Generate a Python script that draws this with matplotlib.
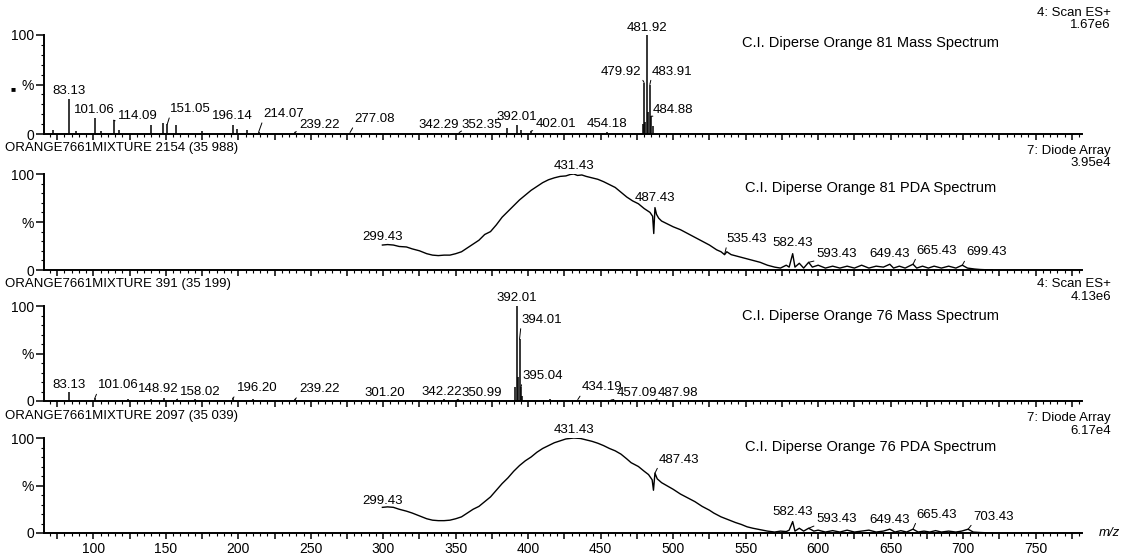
import numpy as np
import matplotlib.pyplot as plt
from matplotlib.ticker import MultipleLocator, FuncFormatter, FixedLocator

plt.rcParams['font.family'] = ['Liberation Sans', 'DejaVu Sans']

# ---- values ----

# C.I. Disperse Orange 81, mass spectrum (relative intensity %)
ms81_mz = [72, 83.13, 88, 101.06, 105, 114.09, 118, 140, 148, 151.05,
           157, 175, 196.14, 199, 206, 214.07, 239.22, 277.08, 342.29, 352.35,
           385.5, 392.01, 395, 402.01, 454.18, 478.9, 479.92, 480.9, 481.92, 482.9,
           483.91, 484.88, 485.9]
ms81_int = [4, 35, 3, 16, 3, 14, 4, 9.5, 11, 10,
            9, 3, 9.5, 5, 4, 2, 2, 1.5, 1.5, 1.5,
            6, 9.5, 4, 3, 2, 10, 52, 12, 100, 22,
            50, 18, 8]
ms81_labels = [83.13, 101.06, 114.09, 151.05, 196.14, 214.07, 239.22, 277.08,
               342.29, 352.35, 392.01, 402.01, 454.18, 479.92, 481.92, 483.91, 484.88]

# C.I. Disperse Orange 81, PDA spectrum
pda81_nm = [299.43, 303, 307, 311, 316, 320, 325, 330, 334, 338,
            342, 346, 350, 354, 358, 362, 366, 370, 374, 378,
            382, 386, 390, 394, 398, 402, 406, 410, 414, 418,
            422, 426, 429, 431.43, 434, 437, 440, 444, 448, 452,
            456, 460, 464, 468, 472, 476, 480, 484, 485.8, 486.6,
            487.43, 488.5, 490, 492, 496, 500, 505, 510, 515, 520,
            525, 530, 533, 535.43, 537, 540, 545, 550, 555, 560,
            565, 570, 574, 578, 580, 582.43, 584, 587, 590, 593.43,
            596, 600, 605, 610, 615, 620, 625, 630, 635, 640,
            645, 649.43, 652, 656, 660, 665.43, 668, 672, 676, 680,
            685, 690, 695, 699.43, 703, 708, 712, 720]
pda81_abs = [26, 26.5, 26, 24.5, 24, 22, 20, 17, 15.5, 15,
             15.5, 15.5, 17, 19, 23, 27, 31, 37, 40, 47,
             55, 61, 67, 73, 78, 83, 87, 91, 94, 96,
             97.5, 98, 99.5, 100, 98.5, 99, 97.5, 96, 94.5, 92,
             89, 86, 81, 76, 72, 69, 64, 60, 56, 38,
             65, 58, 54, 51, 48, 45, 42, 38, 34, 30,
             26, 21, 19, 16, 19, 16, 14, 12, 10, 8,
             5, 3, 2, 5, 3, 17, 3, 7, 2, 8,
             3, 5, 2, 4, 2, 4, 2, 5, 2, 4,
             3, 6, 2, 4, 2, 6, 2, 4, 2, 4,
             2, 4, 2, 5, 2, 1, 0.5, 0]
pda81_labels = [299.43, 431.43, 487.43, 535.43, 582.43, 593.43, 649.43, 665.43, 699.43]

# C.I. Disperse Orange 76, mass spectrum
ms76_mz = [83.13, 101.06, 124, 140, 148.92, 158.02, 170, 196.20, 210, 239.22,
           301.20, 342.22, 350.99, 391.0, 392.01, 393.0, 394.01, 395.04, 396.0, 415,
           434.19, 457.09, 487.98]
ms76_int = [9, 3, 2, 2, 3.5, 2, 2, 3, 2, 2,
            1, 2, 1.5, 15, 100, 25, 65, 15, 5, 2,
            1.5, 1, 1]
ms76_labels = [83.13, 101.06, 148.92, 158.02, 196.20, 239.22, 301.20, 342.22,
               350.99, 392.01, 394.01, 395.04, 434.19, 457.09, 487.98]

# C.I. Disperse Orange 76, PDA spectrum
pda76_nm = [299.43, 303, 307, 311, 316, 320, 325, 330, 334, 338,
            342, 346, 350, 354, 358, 362, 366, 370, 374, 378,
            382, 386, 390, 394, 398, 402, 406, 410, 414, 418,
            422, 426, 431.43, 436, 440, 444, 448, 452, 456, 460,
            464, 468, 471, 476, 480, 483, 485.5, 486.4, 487.43, 489,
            492, 496, 500, 505, 510, 515, 520, 525, 528, 533,
            538, 543, 547, 551, 555, 560, 565, 570, 574, 578,
            580, 582.43, 584, 587, 590, 593.43, 597, 600, 605, 610,
            615, 620, 625, 630, 635, 640, 645, 649.43, 653, 657,
            661, 665.43, 669, 673, 677, 681, 685, 690, 695, 699,
            703.43, 707, 712, 720]
pda76_abs = [27, 27.5, 27, 25, 23, 21, 18, 15, 13.5, 13,
             13, 13.5, 15, 17, 21, 25, 28, 33, 38, 45,
             52, 58, 65, 71, 76, 80, 85, 89, 92, 95,
             97, 99, 100, 99.5, 98, 96.5, 94.5, 92, 89, 86.5,
             83, 78, 74, 70, 65, 61.5, 56, 45, 63, 57,
             53, 49.5, 46, 41, 37, 33, 28, 24, 21, 17,
             14, 11, 9, 6.5, 5, 3.5, 2, 1, 2, 1.5,
             3, 12, 2, 5, 2, 5, 2, 3, 1, 2.5,
             1, 3, 1, 2, 3, 1, 2, 4, 1, 2.5,
             1, 4, 1, 2, 1, 2.5, 1, 2, 1, 2,
             4, 1, 0.5, 0]
pda76_labels = [299.43, 431.43, 487.43, 582.43, 593.43, 649.43, 665.43, 703.43]

titles = ["C.I. Diperse Orange 81 Mass Spectrum", "C.I. Diperse Orange 81 PDA Spectrum",
          "C.I. Diperse Orange 76 Mass Spectrum", "C.I. Diperse Orange 76 PDA Spectrum"]
headers = [("4: Scan ES+", "1.67e6"), ("7: Diode Array", "3.95e4"),
           ("4: Scan ES+", "4.13e6"), ("7: Diode Array", "6.17e4")]
runs = [None, "ORANGE7661MIXTURE 2154 (35 988)",
        "ORANGE7661MIXTURE 391 (35 199)", "ORANGE7661MIXTURE 2097 (35 039)"]

# ---- layout (pixels of the 1129 x 559 scan) ----
W, H = 1129, 559
X0, X1 = 44, 1082
panel_px = [(35, 134), (174, 270), (306, 401), (438, 533)]
title_px = [43, 188, 316, 447]
header_px = [(13, 25), (151, 163), (284, 297), (418, 431)]
run_px = [None, 148, 284, 416]

# label text anchors: (x, y%, alignment); non-centred ones get a leader line
ms81_pos = [(83.13, 37, 'center'), (101.06, 18, 'center'), (117, 12, 'left'), (153, 19, 'left'),
            (196.14, 12, 'center'), (217, 14, 'left'), (242, 3, 'left'), (280, 9, 'left'),
            (338, 3, 'center'), (354, 3, 'left'), (392.01, 11, 'center'), (405, 4, 'left'),
            (454.18, 4, 'center'), (478, 57, 'right'), (481.92, 101, 'center'), (485, 57, 'left'),
            (486, 18, 'left')]
pda81_pos = [(299.43, 28.5, 'center'), (431.43, 102, 'center'), (487.43, 69, 'center'),
             (537, 26, 'left'), (582.43, 22, 'center'), (599, 10, 'left'),
             (649.43, 10, 'center'), (668, 14, 'left'), (702, 12, 'left')]
ms76_pos = [(83.13, 11, 'center'), (103, 10, 'left'), (145, 6, 'center'), (160, 3, 'left'),
            (199, 7, 'left'), (242, 6, 'left'), (301.2, 2, 'center'), (340, 3, 'center'),
            (354, 2, 'left'), (392.01, 102, 'center'), (395, 79, 'left'), (396, 20, 'left'),
            (437, 8, 'left'), (461, 2, 'left'), (489, 2, 'left')]
pda76_pos = [(299.43, 27, 'center'), (431.43, 102, 'center'), (490, 71, 'left'),
             (582.43, 15.5, 'center'), (599, 8.5, 'left'), (649.43, 7, 'center'),
             (668, 13, 'left'), (707, 11, 'left')]

LABEL_FS = 9.5


def label_peaks(ax, values, layout, get_y):
    for v, (tx, ty, ha) in zip(values, layout):
        txt = f"{v:.2f}"
        if ha == 'center':
            ax.text(tx, ty, txt, ha='center', va='bottom', fontsize=LABEL_FS, clip_on=False)
        else:
            rel = (0, 0) if ha == 'left' else (1, 0)
            ax.annotate(txt, xy=(v, get_y(v)), xytext=(tx, ty), ha=ha, va='bottom',
                        fontsize=LABEL_FS, annotation_clip=False,
                        arrowprops=dict(arrowstyle='-', lw=0.7, color='black',
                                        shrinkA=0, shrinkB=0, relpos=rel))


def style_axis(ax, bottom_labels):
    ax.set_xlim(66, 782)
    ax.set_ylim(0, 100)
    for side in ('top', 'right'):
        ax.spines[side].set_visible(False)
    for side in ('left', 'bottom'):
        ax.spines[side].set_linewidth(1.4)
    ax.xaxis.set_major_locator(MultipleLocator(25))
    ax.xaxis.set_minor_locator(MultipleLocator(5))
    ax.xaxis.set_major_formatter(FuncFormatter(lambda v, _: f"{v:.0f}" if v % 50 == 0 else ""))
    ax.yaxis.set_major_locator(FixedLocator([0, 50, 100]))
    ax.yaxis.set_minor_locator(MultipleLocator(10))
    ax.set_yticklabels(["0", "%", "100"])
    ax.tick_params(axis='x', which='major', length=4.5, width=1.1, labelsize=10, pad=2)
    ax.tick_params(axis='x', which='minor', length=2.2, width=0.8)
    ax.tick_params(axis='y', which='major', length=6, width=1.1, labelsize=10, pad=1)
    ax.tick_params(axis='y', which='minor', length=2.5, width=0.8)
    ax.tick_params(labelbottom=bottom_labels)


fig = plt.figure(figsize=(W / 100, H / 100), dpi=100)
axes = []
for top, bot in panel_px:
    rect = [X0 / W, 1 - bot / H, (X1 - X0) / W, (bot - top) / H]
    axes.append(fig.add_axes(rect))

# mass spectra as sticks, PDA spectra as traces
axes[0].vlines(ms81_mz, 0, ms81_int, colors='black', lw=1.1)
axes[1].plot(pda81_nm, pda81_abs, color='black', lw=1.0)
axes[2].vlines(ms76_mz, 0, ms76_int, colors='black', lw=1.1)
axes[3].plot(pda76_nm, pda76_abs, color='black', lw=1.0)

ms81_lookup = dict(zip(ms81_mz, ms81_int))
ms76_lookup = dict(zip(ms76_mz, ms76_int))
label_peaks(axes[0], ms81_labels, ms81_pos, lambda v: ms81_lookup[v])
label_peaks(axes[1], pda81_labels, pda81_pos, lambda v: np.interp(v, pda81_nm, pda81_abs))
label_peaks(axes[2], ms76_labels, ms76_pos, lambda v: ms76_lookup[v])
label_peaks(axes[3], pda76_labels, pda76_pos, lambda v: np.interp(v, pda76_nm, pda76_abs))

for i, ax in enumerate(axes):
    style_axis(ax, bottom_labels=(i == 3))
    top, bot = panel_px[i]
    ax.text(0.796, (bot - title_px[i]) / (bot - top), titles[i], transform=ax.transAxes,
            ha='center', va='center', fontsize=10.5)
    h1, h2 = headers[i]
    fig.text(1111 / W, 1 - header_px[i][0] / H, h1, ha='right', va='center', fontsize=9.5)
    fig.text(1111 / W, 1 - header_px[i][1] / H, h2, ha='right', va='center', fontsize=9.5)
    if runs[i]:
        fig.text(5 / W, 1 - run_px[i] / H, runs[i], ha='left', va='center', fontsize=9.5)

fig.text(13 / W, 1 - 90 / H, "■", ha='center', va='center', fontsize=6)
fig.text(1099 / W, 1 - 533 / H, "m/z", ha='left', va='center', fontsize=9.5, style='italic')

fig.savefig("out.png", dpi=100)
